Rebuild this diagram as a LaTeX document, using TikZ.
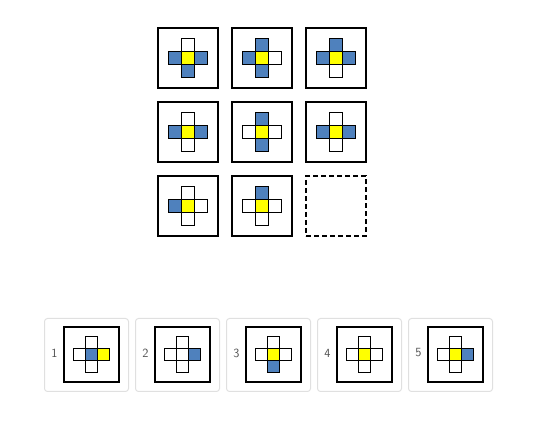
\documentclass[tikz,border=0pt]{standalone}
\usetikzlibrary{positioning}

\definecolor{blu}{RGB}{79,129,189}
\definecolor{yel}{RGB}{255,255,0}
\definecolor{frame}{RGB}{224,224,224}
\definecolor{numgray}{RGB}{80,80,80}

\tikzset{
  gridbox/.style={draw, line width=2pt, minimum size=60pt, inner sep=0pt},
  ansbox/.style={draw, line width=1.6pt, minimum size=55.5pt, inner sep=0pt},
  card/.style={draw=frame, line width=1pt, rounded corners=3pt, minimum width=84pt, minimum height=73pt, inner sep=0pt},
  cell/.style={draw, line width=1pt, minimum size=13pt, inner sep=0pt, outer sep=0pt},
  smallcell/.style={draw, line width=0.9pt, minimum size=12pt, inner sep=0pt, outer sep=0pt},
  numlabel/.style={font=\sffamily\fontsize{12.5}{12.5}\selectfont, text=numgray, inner sep=0pt}
}

% #1 name, #2 centre, #3 cell style, #4 top, #5 left, #6 middle, #7 right, #8 bottom
\newcommand{\plusfig}[8]{%
  \node[#3, fill=#6] (#1m) at (#2) {};
  \node[#3, fill=#4, above=0pt of #1m] (#1t) {};
  \node[#3, fill=#5, left=0pt of #1m] (#1l) {};
  \node[#3, fill=#7, right=0pt of #1m] (#1r) {};
  \node[#3, fill=#8, below=0pt of #1m] (#1b) {};
}

\begin{document}
\begin{tikzpicture}[x=1pt, y=-1pt]
  \useasboundingbox (0,0) rectangle (550,427);

  % the 3x3 matrix
  \foreach \nm/\px/\py/\t/\l/\c/\r/\b in {
      g11/188/58/white/blu/yel/blu/blu,
      g12/262/58/blu/blu/yel/white/blu,
      g13/336/58/blu/blu/yel/blu/white,
      g21/188/132/white/blu/yel/blu/white,
      g22/262/132/blu/white/yel/white/blu,
      g23/336/132/white/blu/yel/blu/white,
      g31/188/206/white/blu/yel/white/white,
      g32/262/206/blu/white/yel/white/white} {
    \node[gridbox] (\nm) at (\px,\py) {};
    \plusfig{\nm-}{\nm.center}{cell}{\t}{\l}{\c}{\r}{\b}
  }
  \node[gridbox, dash pattern=on 5pt off 3pt] (g33) at (336,206) {};

  % answer choices
  \foreach \i/\t/\l/\c/\r/\b in {
      1/white/white/blu/yel/white,
      2/white/white/white/blu/white,
      3/white/white/yel/white/blu,
      4/white/white/yel/white/white,
      5/white/white/yel/blu/white} {
    \node[card] (card\i) at ({86.5+91*(\i-1)},355) {};
    \node[ansbox] (ans\i) at ({91.5+91*(\i-1)},354.5) {};
    \node[numlabel] (num\i) at ({54.5+91*(\i-1)},353) {\i};
    \plusfig{ans\i-}{ans\i.center}{smallcell}{\t}{\l}{\c}{\r}{\b}
  }
\end{tikzpicture}
\end{document}
